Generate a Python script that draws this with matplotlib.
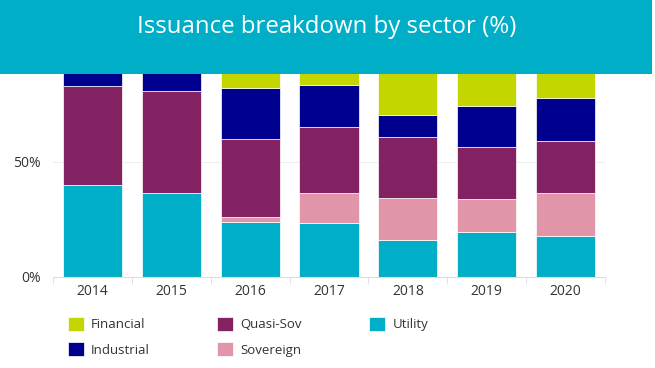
import matplotlib.pyplot as plt
import numpy as np
from matplotlib.patches import Rectangle

years = ["2014", "2015", "2016", "2017", "2018", "2019", "2020"]
utility = [40, 36.5, 24, 23.5, 16, 19.5, 18]
sovereign = [0, 0, 2, 13, 18.5, 14.5, 18.5]
quasi_sov = [43, 44.5, 34, 28.5, 26.5, 22.5, 22.5]
industrial = [17, 19, 22, 18.5, 9.5, 18, 19]
financial = [0, 0, 18, 16.5, 29.5, 25.5, 22]

series = [
    ("Utility", utility, "#00AEC7"),
    ("Sovereign", sovereign, "#E095A9"),
    ("Quasi-Sov", quasi_sov, "#832262"),
    ("Industrial", industrial, "#00008F"),
    ("Financial", financial, "#C4D600"),
]

plt.rcParams['font.family'] = ['Open Sans', 'DejaVu Sans']

fig = plt.figure(figsize=(6.55, 3.68), dpi=100)
ax = fig.add_axes([0.0809, 0.2473, 0.8428, 0.625])

x = np.arange(len(years))
bottom = np.zeros(len(years))
handles = {}
for name, vals, col in series:
    vals = np.array(vals, dtype=float)
    b = ax.bar(x, vals, width=0.75, bottom=bottom, color=col,
               edgecolor="white", linewidth=0.5, zorder=2)
    handles[name] = b
    bottom += vals

ax.set_xlim(-0.5, 6.5)
ax.set_ylim(0, 100)
ax.set_yticks([0, 50, 100])
ax.set_yticklabels(["0%", "50%", "100%"])
ax.set_xticks(x)
ax.set_xticklabels(years)
ax.set_xticks(np.arange(-0.5, 7, 1), minor=True)
ax.tick_params(axis="x", which="major", length=0, pad=5, labelsize=10, labelcolor="#333333")
ax.tick_params(axis="x", which="minor", length=5, color="#dddddd")
ax.tick_params(axis="y", length=0, pad=9, labelsize=10, labelcolor="#333333")
ax.yaxis.grid(True, color="#eeeeee", linewidth=0.8, zorder=0)
ax.set_axisbelow(True)
for s in ["top", "right", "left"]:
    ax.spines[s].set_visible(False)
ax.spines["bottom"].set_color("#dddddd")
ax.spines["bottom"].set_linewidth(0.8)

# title banner over the top of the chart
banner = Rectangle((0, 1 - 74 / 368), 652 / 655, 74 / 368, transform=fig.transFigure,
                   facecolor="#00AEC7", edgecolor="none", zorder=10)
fig.add_artist(banner)
fig.text(0.498, 1 - 27 / 368, "Issuance breakdown by sector (%)", color="white",
         fontsize=17.3, ha="center", va="center", zorder=11)

order = ["Financial", "Industrial", "Quasi-Sov", "Sovereign", "Utility"]
fig.legend([handles[n] for n in order], order, ncol=3, frameon=False,
           loc="upper left", bbox_to_anchor=(0.104, 0.139),
           fontsize=9.5, handlelength=1.2, handleheight=1.25, handletextpad=0.55,
           columnspacing=5.1, labelspacing=0.85, labelcolor="#333333",
           borderaxespad=0, borderpad=0)

fig.savefig("out.png", dpi=100)
